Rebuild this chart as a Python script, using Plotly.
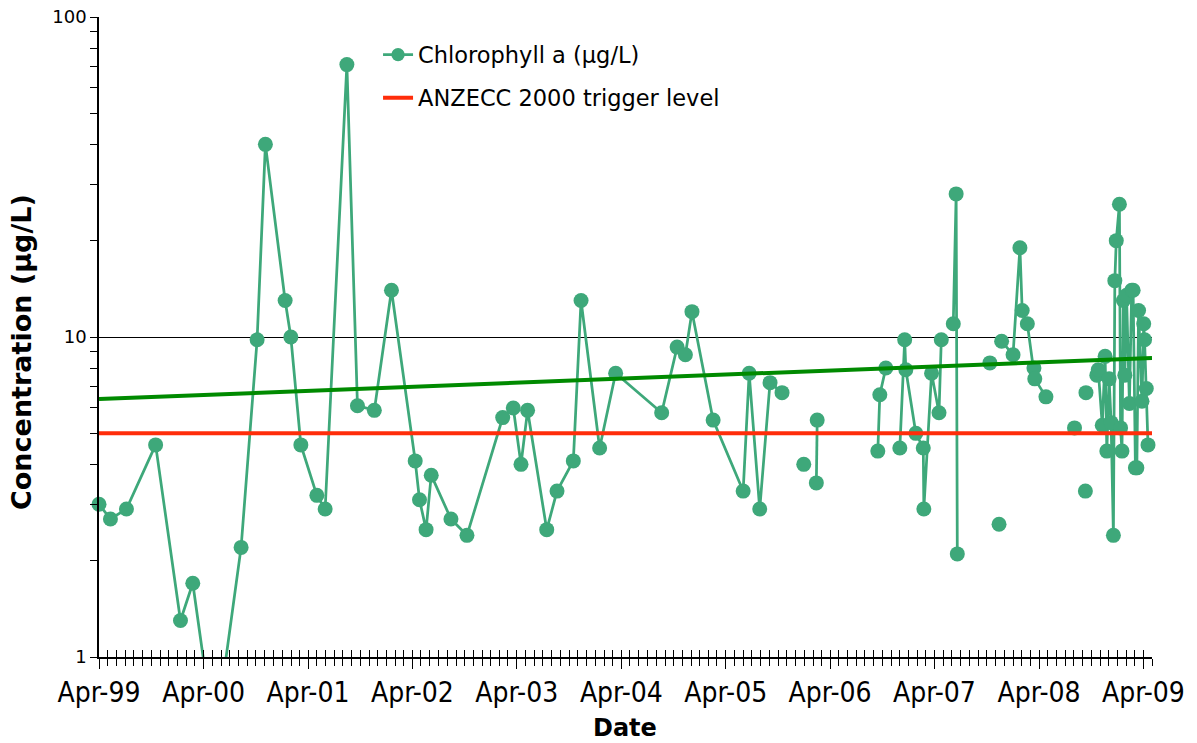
import plotly.graph_objects as go

# Chlorophyll a samples (µg/L). None marks a break in the sampling record,
# so the line is not drawn across it.
sample_dates = [
    "1999-04-01", "1999-05-11", "1999-07-06", "1999-10-16", "2000-01-11",
    "2000-02-23", "2000-05-10", "2000-08-10", "2000-10-05", "2000-11-03",
    "2001-01-11", "2001-01-31", "2001-03-07", "2001-05-02", "2001-05-31",
    "2001-08-15", "2001-09-21", "2001-11-19", "2002-01-18", "2002-04-11",
    "2002-04-26", "2002-05-19", "2002-06-06", "2002-08-14", "2002-10-09",
    "2003-02-11", "2003-03-20", "2003-04-16", "2003-05-09", "2003-07-15",
    "2003-08-20", "2003-10-16", "2003-11-12", "2004-01-16", "2004-03-12",
    "2004-08-20", "2004-10-13", "2004-11-11", "2004-12-04", "2005-02-16",
    "2005-06-01", "2005-06-22", "2005-07-29", "2005-09-03", "2005-10-15",
    "2005-11-20",
    "2005-12-30",
    "2006-01-20",
    "2006-02-12", "2006-02-15",
    "2006-06-01",
    "2006-09-15", "2006-09-22", "2006-10-13",
    "2006-11-10",
    "2006-12-01", "2006-12-18", "2006-12-22", "2007-01-26", "2007-02-21",
    "2007-02-23", "2007-03-22", "2007-04-17", "2007-04-25",
    "2007-05-20",
    "2007-06-06", "2007-06-16", "2007-06-20",
    "2007-08-01",
    "2007-10-12",
    "2007-11-01",
    "2007-11-13",
    "2007-11-18",
    "2007-11-22", "2008-01-01", "2008-01-25", "2008-02-02", "2008-02-20",
    "2008-03-14", "2008-03-17", "2008-04-25",
    "2008-06-01",
    "2008-08-03",
    "2008-08-20",
    "2008-09-10",
    "2008-09-11",
    "2008-09-12",
    "2008-10-01",
    "2008-10-20", "2008-10-25", "2008-11-08", "2008-11-18", "2008-11-24",
    "2008-12-02", "2008-12-09", "2008-12-17", "2008-12-22", "2008-12-27",
    "2009-01-07", "2009-01-11", "2009-01-16", "2009-01-21", "2009-01-26",
    "2009-02-01", "2009-02-11", "2009-02-19", "2009-02-24", "2009-03-04",
    "2009-03-09", "2009-03-15", "2009-03-27", "2009-04-02", "2009-04-05",
    "2009-04-11", "2009-04-17",
]
chl_a = [
    3.0, 2.7, 2.9, 4.6, 1.3,
    1.7, 0.55, 2.2, 9.8, 40.0,
    13.0, 10.0, 4.6, 3.2, 2.9,
    71.0, 6.1, 5.9, 14.0, 4.1,
    3.1, 2.5, 3.7, 2.7, 2.4,
    5.6, 6.0, 4.0, 5.9, 2.5,
    3.3, 4.1, 13.0, 4.5, 7.7,
    5.8, 9.3, 8.8, 12.0, 5.5,
    3.3, 7.7, 2.9, 7.2, 6.7,
    None,
    4.0,
    None,
    3.5, 5.5,
    None,
    4.4, 6.6, 8.0,
    None,
    4.5, 9.8, 7.9, 5.0, 4.5,
    2.9, 7.7, 5.8, 9.8,
    None,
    11.0, 28.0, 2.1,
    None,
    8.3,
    None,
    2.6,
    None,
    9.7, 8.8, 19.0, 12.1, 11.0,
    8.0, 7.4, 6.5,
    None,
    5.2,
    None,
    3.3,
    None,
    6.7,
    None,
    7.6, 7.9, 5.3, 8.7, 4.4,
    7.4, 5.4, 2.4, 15.0, 20.0,
    26.0, 5.2, 4.4, 13.0, 7.6,
    13.5, 6.2, 14.0, 14.0, 3.9,
    3.9, 12.1, 6.3, 11.0, 9.8,
    6.9, 4.6,
]

# ANZECC 2000 trigger level and the exponential trend over the record
trigger_level = 5.0
trend_dates = ["1999-04-01", "2009-05-01"]
trend_values = [6.4, 8.6]

x_start, x_end = "1999-04-01", "2009-05-01"
y_tick_values = [1, 10, 100]
y_tick_labels = ["1", "10", "100"]
y_minor_values = [2, 3, 4, 5, 6, 7, 8, 9, 20, 30, 40, 50, 60, 70, 80, 90]

# markers below the axis floor are hidden; only their connecting line shows
marker_sizes = [15 if (v is not None and v >= 1) else 0 for v in chl_a]

DATA_GREEN = "#3ea87a"
TREND_GREEN = "#008a00"
TRIGGER_RED = "#ff2d0a"

fig = go.Figure()

fig.add_trace(go.Scatter(
    x=sample_dates, y=chl_a, mode="lines+markers",
    name="Chlorophyll a (µg/L)",
    line=dict(color=DATA_GREEN, width=2.75),
    marker=dict(color=DATA_GREEN, size=marker_sizes, opacity=1,
                line=dict(width=0)),
    connectgaps=False, cliponaxis=False,
    legend="legend",
))

fig.add_trace(go.Scatter(
    x=trend_dates, y=trend_values, mode="lines",
    line=dict(color=TREND_GREEN, width=4),
    showlegend=False, hoverinfo="skip",
))

fig.add_trace(go.Scatter(
    x=[x_start, x_end], y=[trigger_level, trigger_level], mode="lines",
    name="ANZECC 2000 trigger level",
    line=dict(color=TRIGGER_RED, width=4),
    legend="legend2",
))

tick_font = dict(family="DejaVu Sans Condensed", size=28, color="black")
legend_font = dict(family="DejaVu Sans", size=22.5, color="black")

fig.update_layout(
    width=1197, height=743,
    margin=dict(l=99, r=45, t=17, b=86, autoexpand=False),
    paper_bgcolor="white", plot_bgcolor="white",
    xaxis=dict(
        type="date", range=[x_start, x_end], automargin=False,
        tick0="1999-04-01", dtick="M12", tickformat="%b-%y",
        ticks="outside", ticklen=10, tickwidth=1.2, tickcolor="black",
        minor=dict(ticks="outside", ticklen=7, tickwidth=1.2, tickcolor="black",
                   dtick="M1", tick0="1999-04-01", showgrid=False),
        showline=True, linecolor="black", linewidth=1.5,
        showgrid=False, zeroline=False,
        tickfont=tick_font,
    ),
    xaxis2=dict(
        type="date", range=[x_start, x_end], overlaying="x", automargin=False,
        tick0="1999-04-01", dtick="M12",
        ticks="inside", ticklen=7, tickwidth=1.2, tickcolor="black",
        minor=dict(ticks="inside", ticklen=7, tickwidth=1.2, tickcolor="black",
                   dtick="M1", tick0="1999-04-01"),
        showticklabels=False, showgrid=False, showline=False, zeroline=False,
    ),
    yaxis=dict(
        type="log", range=[0, 2], automargin=False,
        tickvals=y_tick_values, ticktext=y_tick_labels,
        ticks="outside", ticklen=7, tickwidth=1.2, tickcolor="black",
        minor=dict(tickvals=y_minor_values, ticks="outside", ticklen=7,
                   tickwidth=1.2, tickcolor="black", showgrid=False),
        showline=True, linecolor="black", linewidth=1.5,
        showgrid=True, gridcolor="black", gridwidth=1.2,
        zeroline=False,
        tickfont=dict(family="DejaVu Sans", size=18, color="black"),
    ),
    legend=dict(
        x=0.265, y=0.9406, xanchor="left", yanchor="middle",
        bgcolor="rgba(0,0,0,0)", borderwidth=0, font=legend_font,
    ),
    legend2=dict(
        x=0.265, y=0.8734, xanchor="left", yanchor="middle",
        bgcolor="rgba(0,0,0,0)", borderwidth=0, font=legend_font,
    ),
    annotations=[
        dict(text="Concentration (µg/L)", textangle=-90,
             xref="paper", yref="paper", x=-0.0731, y=0.4766,
             xanchor="center", yanchor="middle", showarrow=False,
             font=dict(family="DejaVu Sans", size=27, color="black", weight="bold")),
        dict(text="Date", xref="paper", yref="paper", x=0.4995, y=-0.1109,
             xanchor="center", yanchor="middle", showarrow=False,
             font=dict(family="DejaVu Sans", size=24, color="black", weight="bold")),
    ],
    showlegend=True,
)

# the overlay axis needs at least one trace bound to it to draw its ticks
fig.add_trace(go.Scatter(x=[x_start], y=[trigger_level], xaxis="x2", mode="none",
                         showlegend=False, hoverinfo="skip"))

fig.write_html("out.html")
